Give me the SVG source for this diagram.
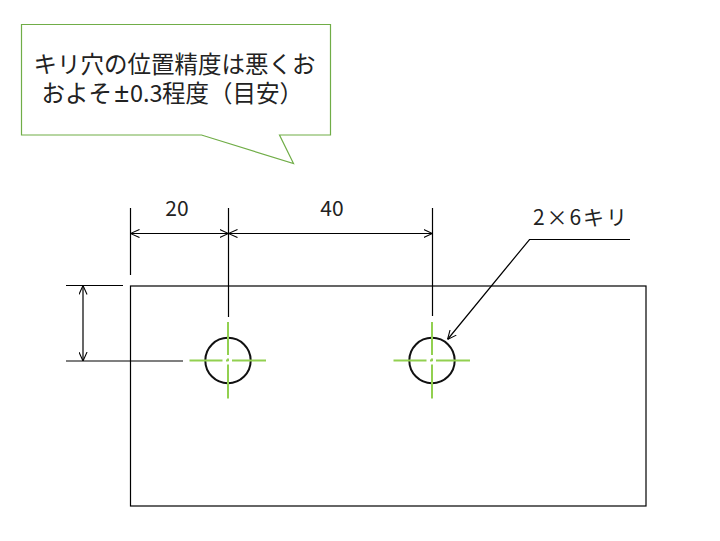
<svg xmlns="http://www.w3.org/2000/svg" width="720" height="541" viewBox="0 0 720 541">
<style>
.ln{stroke:#000;stroke-width:1.2;fill:none}
.txt{font-family:"Noto Sans CJK JP","Noto Sans",sans-serif;fill:#222}
.lat{font-family:"Noto Sans","Noto Sans CJK JP",sans-serif;font-size:27px}
.cl{stroke:#92D050;stroke-width:2;fill:none;stroke-dasharray:33 3.5 2.5 3.5 34}
.hole{stroke:#111;stroke-width:2;fill:none}
</style>
<defs>
<marker id="ar" viewBox="0 0 10 10" refX="10" refY="5" markerWidth="9" markerHeight="9" markerUnits="userSpaceOnUse" orient="auto-start-reverse">
<path d="M0,0.5 L10,5 L0,9.5" fill="none" stroke="#000" stroke-width="1.2"/>
</marker>
</defs>
<rect width="720" height="541" fill="#fff"/>
<g id="callout">
<path d="M21.5,24.5 H330.5 V135 H279.5 L293.5,163.5 L201.5,135 H21.5 Z" fill="#fff" stroke="#70AD47" stroke-width="1.2"/>
<text class="txt" x="33.5" y="73" font-size="23.5">キリ穴の位置精度は悪くお</text>
<text class="txt" y="102" font-size="23.5"><tspan x="41.5">およそ</tspan><tspan class="lat" x="114">±</tspan><tspan x="130">0.3</tspan><tspan x="162">程度（目安）</tspan></text>
</g>
<g id="plate">
<rect x="130.5" y="286" width="515.5" height="220" class="ln"/>
</g>
<g id="hole1">
<circle cx="228" cy="360.5" r="22.7" class="hole"/>
<line x1="189.5" y1="360.5" x2="266.5" y2="360.5" class="cl"/>
<line x1="228" y1="322" x2="228" y2="399" class="cl"/>
</g>
<g id="hole2">
<circle cx="432" cy="360.5" r="22.7" class="hole"/>
<line x1="393.5" y1="360.5" x2="470.5" y2="360.5" class="cl"/>
<line x1="432" y1="322" x2="432" y2="399" class="cl"/>
</g>
<g id="connectors">
<line x1="130.5" y1="208" x2="130.5" y2="275" class="ln"/>
<line x1="228.5" y1="208" x2="228.5" y2="317" class="ln"/>
<line x1="432.5" y1="208" x2="432.5" y2="316" class="ln"/>
<line x1="130.5" y1="233.5" x2="228.5" y2="233.5" class="ln" marker-start="url(#ar)" marker-end="url(#ar)"/>
<line x1="228.5" y1="233.5" x2="432.5" y2="233.5" class="ln" marker-start="url(#ar)" marker-end="url(#ar)"/>
<line x1="66" y1="285.5" x2="123" y2="285.5" class="ln"/>
<line x1="66" y1="361" x2="183" y2="361" class="ln"/>
<line x1="83" y1="285.5" x2="83" y2="361" class="ln" marker-start="url(#ar)" marker-end="url(#ar)"/>
<path d="M630,239.5 H529.5 L447.5,339.5" class="ln" marker-end="url(#ar)"/>
</g>
<g id="labels">
<text class="txt" x="177" y="216" font-size="21" text-anchor="middle">20</text>
<text class="txt" x="332" y="216" font-size="21" text-anchor="middle">40</text>
<text class="txt" x="533" y="225" font-size="21" textLength="94" lengthAdjust="spacing">2×6キリ</text>
</g>
</svg>
